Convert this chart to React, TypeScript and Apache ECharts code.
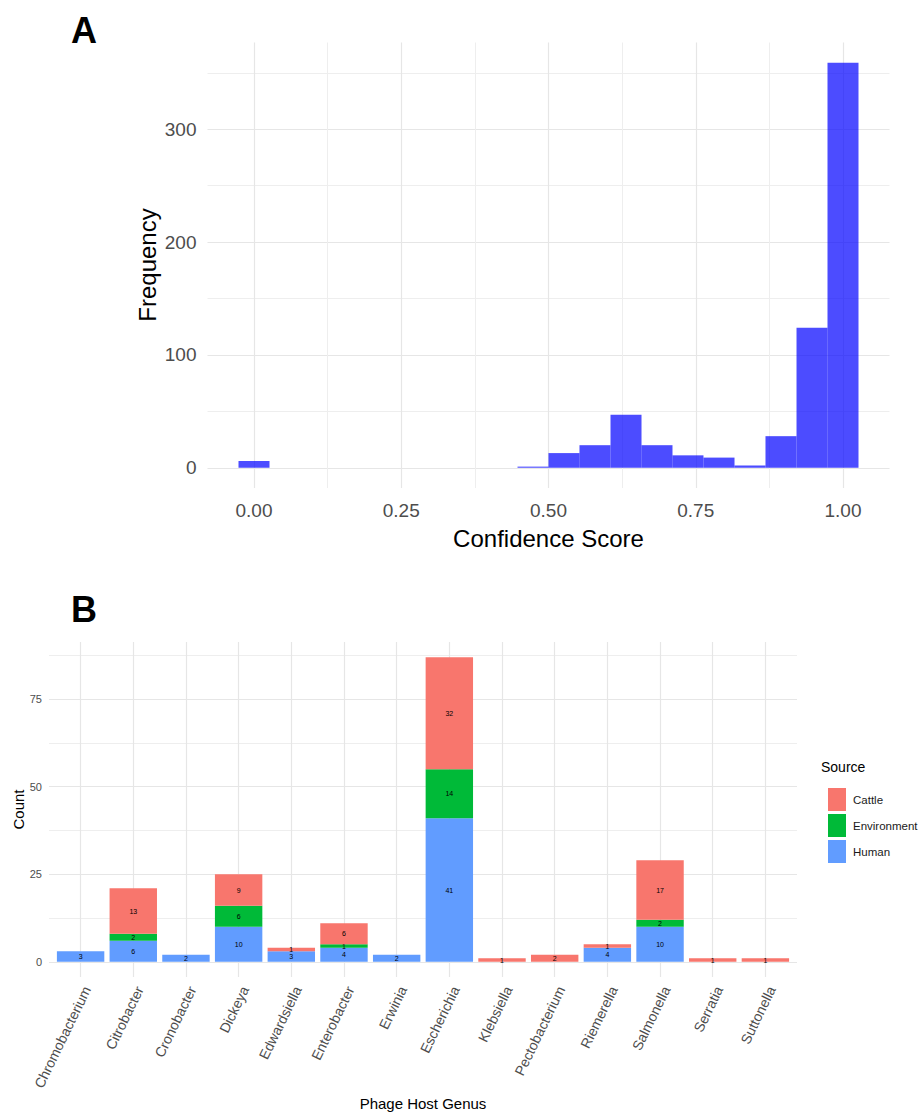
import React, { useEffect, useRef } from 'react';
import * as echarts from 'echarts';

// ---------- Panel A data (histogram of confidence scores) ----------
const binCenters = [0.0, 0.4737, 0.5263, 0.5789, 0.6316, 0.6842, 0.7368, 0.7895, 0.8421, 0.8947, 0.9474, 1.0];
const binCounts = [6, 1, 13, 20, 47, 20, 11, 9, 2, 28, 124, 359];
const binWidth = 0.05263;
const scoreTicks = [0, 0.25, 0.5, 0.75, 1.0];
const scoreMinorTicks = [0.125, 0.375, 0.625, 0.875];
const freqTicks = [0, 100, 200, 300];
const freqMinorTicks = [50, 150, 250, 350];

// ---------- Panel B data (stacked counts by genus and source) ----------
const genera = [
  'Chromobacterium', 'Citrobacter', 'Cronobacter', 'Dickeya', 'Edwardsiella', 'Enterobacter', 'Erwinia',
  'Escherichia', 'Klebsiella', 'Pectobacterium', 'Riemerella', 'Salmonella', 'Serratia', 'Suttonella',
];
const human = [3, 6, 2, 10, 3, 4, 2, 41, 0, 0, 4, 10, 0, 0];
const environment = [0, 2, 0, 6, 0, 1, 0, 14, 0, 0, 0, 2, 0, 0];
const cattle = [0, 13, 0, 9, 1, 6, 0, 32, 1, 2, 1, 17, 1, 1];
const countTicks = [0, 25, 50, 75];
const countMinorTicks = [12.5, 37.5, 62.5, 87.5];
const sourceNames = ['Cattle', 'Environment', 'Human'];

const FONT = '"Liberation Sans", Arial, Helvetica, sans-serif';
const GRID_MAJOR = '#e6e6e6';
const GRID_MINOR = '#eeeeee';
const TICK_COLOR = '#4d4d4d';
const COLORS: Record<string, string> = { Cattle: '#F8766D', Environment: '#00BA38', Human: '#619CFF' };

function axisWith(type: 'x' | 'y', gridIndex: number, min: number, max: number, values: number[], opts: any) {
  const showLabel = opts.showLabel !== false;
  return {
    type: 'value',
    gridIndex,
    min,
    max,
    position: type === 'x' ? 'bottom' : 'left',
    axisLine: { show: false },
    axisTick: { show: false, customValues: values },
    axisLabel: {
      show: showLabel,
      customValues: values,
      color: TICK_COLOR,
      fontFamily: FONT,
      fontSize: opts.fontSize ?? 12,
      margin: opts.margin ?? 8,
      formatter: opts.formatter,
      rotate: opts.rotate ?? 0,
      verticalAlign: opts.verticalAlign,
      align: opts.align,
    },
    splitLine: { show: true, lineStyle: { color: opts.gridColor ?? GRID_MAJOR, width: opts.gridWidth ?? 1.2 } },
    minorSplitLine: { show: false },
  };
}

export default function App() {
  const ref = useRef<HTMLDivElement>(null);

  useEffect(() => {
    const chart = echarts.init(ref.current!, null, { renderer: 'svg' });

    // Panel A extents (ggplot-like 5% expansion)
    const xLo = binCenters[0] - binWidth / 2;
    const xHi = binCenters[binCenters.length - 1] + binWidth / 2;
    const xPad = (xHi - xLo) * 0.05;
    const yMaxA = Math.max(...binCounts);
    const yPadA = yMaxA * 0.05;

    // Panel B stacking
    const stackOrder = [
      { name: 'Human', values: human },
      { name: 'Environment', values: environment },
      { name: 'Cattle', values: cattle },
    ];
    let base = genera.map(() => 0);
    const stacked = stackOrder.map((s) => {
      const data = s.values.map((v, i) => [i, base[i], base[i] + v, v]);
      base = base.map((b, i) => b + s.values[i]);
      return { name: s.name, data };
    });
    const totalMax = Math.max(...base);
    const yPadB = totalMax * 0.05;

    const histData = binCenters.map((c, i) => [c, binCounts[i]]);

    const option: any = {
      animation: false,
      textStyle: { fontFamily: FONT },
      grid: [
        { left: 207.5, top: 42.5, width: 682, height: 445.5 },
        { left: 49, top: 642, width: 748, height: 335 },
      ],
      xAxis: [
        axisWith('x', 0, xLo - xPad, xHi + xPad, scoreTicks, {
          fontSize: 19, margin: 13, formatter: (v: number) => v.toFixed(2),
        }),
        axisWith('x', 0, xLo - xPad, xHi + xPad, scoreMinorTicks, { showLabel: false, gridColor: GRID_MINOR, gridWidth: 1 }),
        axisWith('x', 1, -0.6, genera.length - 1 + 0.6, genera.map((_, i) => i), {
          fontSize: 14, margin: 7, rotate: 64, align: 'right', verticalAlign: 'top',
          formatter: (v: number) => genera[Math.round(v)] ?? '',
        }),
      ],
      yAxis: [
        axisWith('y', 0, -yPadA, yMaxA + yPadA, freqTicks, { fontSize: 19, margin: 11 }),
        axisWith('y', 0, -yPadA, yMaxA + yPadA, freqMinorTicks, { showLabel: false, gridColor: GRID_MINOR, gridWidth: 1 }),
        axisWith('y', 1, -yPadB, totalMax + yPadB, countTicks, { fontSize: 11, margin: 7 }),
        axisWith('y', 1, -yPadB, totalMax + yPadB, countMinorTicks, { showLabel: false, gridColor: GRID_MINOR, gridWidth: 1 }),
      ],
      legend: {
        data: sourceNames,
        orient: 'vertical',
        left: 823,
        top: 783,
        itemWidth: 18,
        itemHeight: 23,
        itemGap: 3,
        icon: 'rect',
        selectedMode: false,
        textStyle: { fontSize: 11.5, color: '#1a1a1a', fontFamily: FONT, padding: [0, 0, 0, 2] },
      },
      graphic: [
        { type: 'text', left: 71, top: 12, style: { text: 'A', fontSize: 36, fontWeight: 'bold', fill: '#000', fontFamily: FONT } },
        { type: 'text', left: 71, top: 591, style: { text: 'B', fontSize: 36, fontWeight: 'bold', fill: '#000', fontFamily: FONT } },
        {
          type: 'text', x: 147, y: 265, rotation: Math.PI / 2,
          style: { text: 'Frequency', fontSize: 24, fill: '#000', align: 'center', verticalAlign: 'middle', fontFamily: FONT },
        },
        {
          type: 'text', x: 548.5, y: 538,
          style: { text: 'Confidence Score', fontSize: 24, fill: '#000', align: 'center', verticalAlign: 'middle', fontFamily: FONT },
        },
        {
          type: 'text', x: 18.5, y: 809.5, rotation: Math.PI / 2,
          style: { text: 'Count', fontSize: 15, fill: '#000', align: 'center', verticalAlign: 'middle', fontFamily: FONT },
        },
        {
          type: 'text', x: 423, y: 1103,
          style: { text: 'Phage Host Genus', fontSize: 15, fill: '#000', align: 'center', verticalAlign: 'middle', fontFamily: FONT },
        },
        {
          type: 'text', x: 821, y: 767,
          style: { text: 'Source', fontSize: 14, fill: '#000', align: 'left', verticalAlign: 'middle', fontFamily: FONT },
        },
      ],
      series: [
        {
          type: 'custom',
          name: 'Histogram',
          xAxisIndex: 0,
          yAxisIndex: 0,
          data: histData,
          itemStyle: { color: 'rgba(0,0,255,0.7)' },
          renderItem: (params: any, api: any) => {
            const c = api.value(0);
            const n = api.value(1);
            const p0 = api.coord([c - binWidth / 2, n]);
            const p1 = api.coord([c + binWidth / 2, 0]);
            return {
              type: 'rect',
              shape: { x: p0[0], y: p0[1], width: p1[0] - p0[0], height: p1[1] - p0[1] },
              style: { fill: 'rgba(0,0,255,0.7)' },
            };
          },
        },
        ...stacked.map((s) => ({
          type: 'custom',
          name: s.name,
          xAxisIndex: 2,
          yAxisIndex: 2,
          data: s.data,
          itemStyle: { color: COLORS[s.name] },
          renderItem: (params: any, api: any) => {
            const i = api.value(0);
            const lo = api.value(1);
            const hi = api.value(2);
            const v = api.value(3);
            if (!v) return { type: 'group', children: [] };
            const p0 = api.coord([i - 0.45, hi]);
            const p1 = api.coord([i + 0.45, lo]);
            return {
              type: 'group',
              children: [
                {
                  type: 'rect',
                  shape: { x: p0[0], y: p0[1], width: p1[0] - p0[0], height: p1[1] - p0[1] },
                  style: { fill: COLORS[s.name] },
                },
                {
                  type: 'text',
                  style: {
                    text: String(v),
                    x: (p0[0] + p1[0]) / 2,
                    y: (p0[1] + p1[1]) / 2,
                    align: 'center',
                    verticalAlign: 'middle',
                    fontSize: 7,
                    fill: '#000',
                    fontFamily: FONT,
                  },
                },
              ],
            };
          },
        })),
      ],
    };

    chart.setOption(option);
    return () => chart.dispose();
  }, []);

  return <div ref={ref} style={{ position: 'absolute', left: 0, top: 0, width: 919, height: 1115 }} />;
}
